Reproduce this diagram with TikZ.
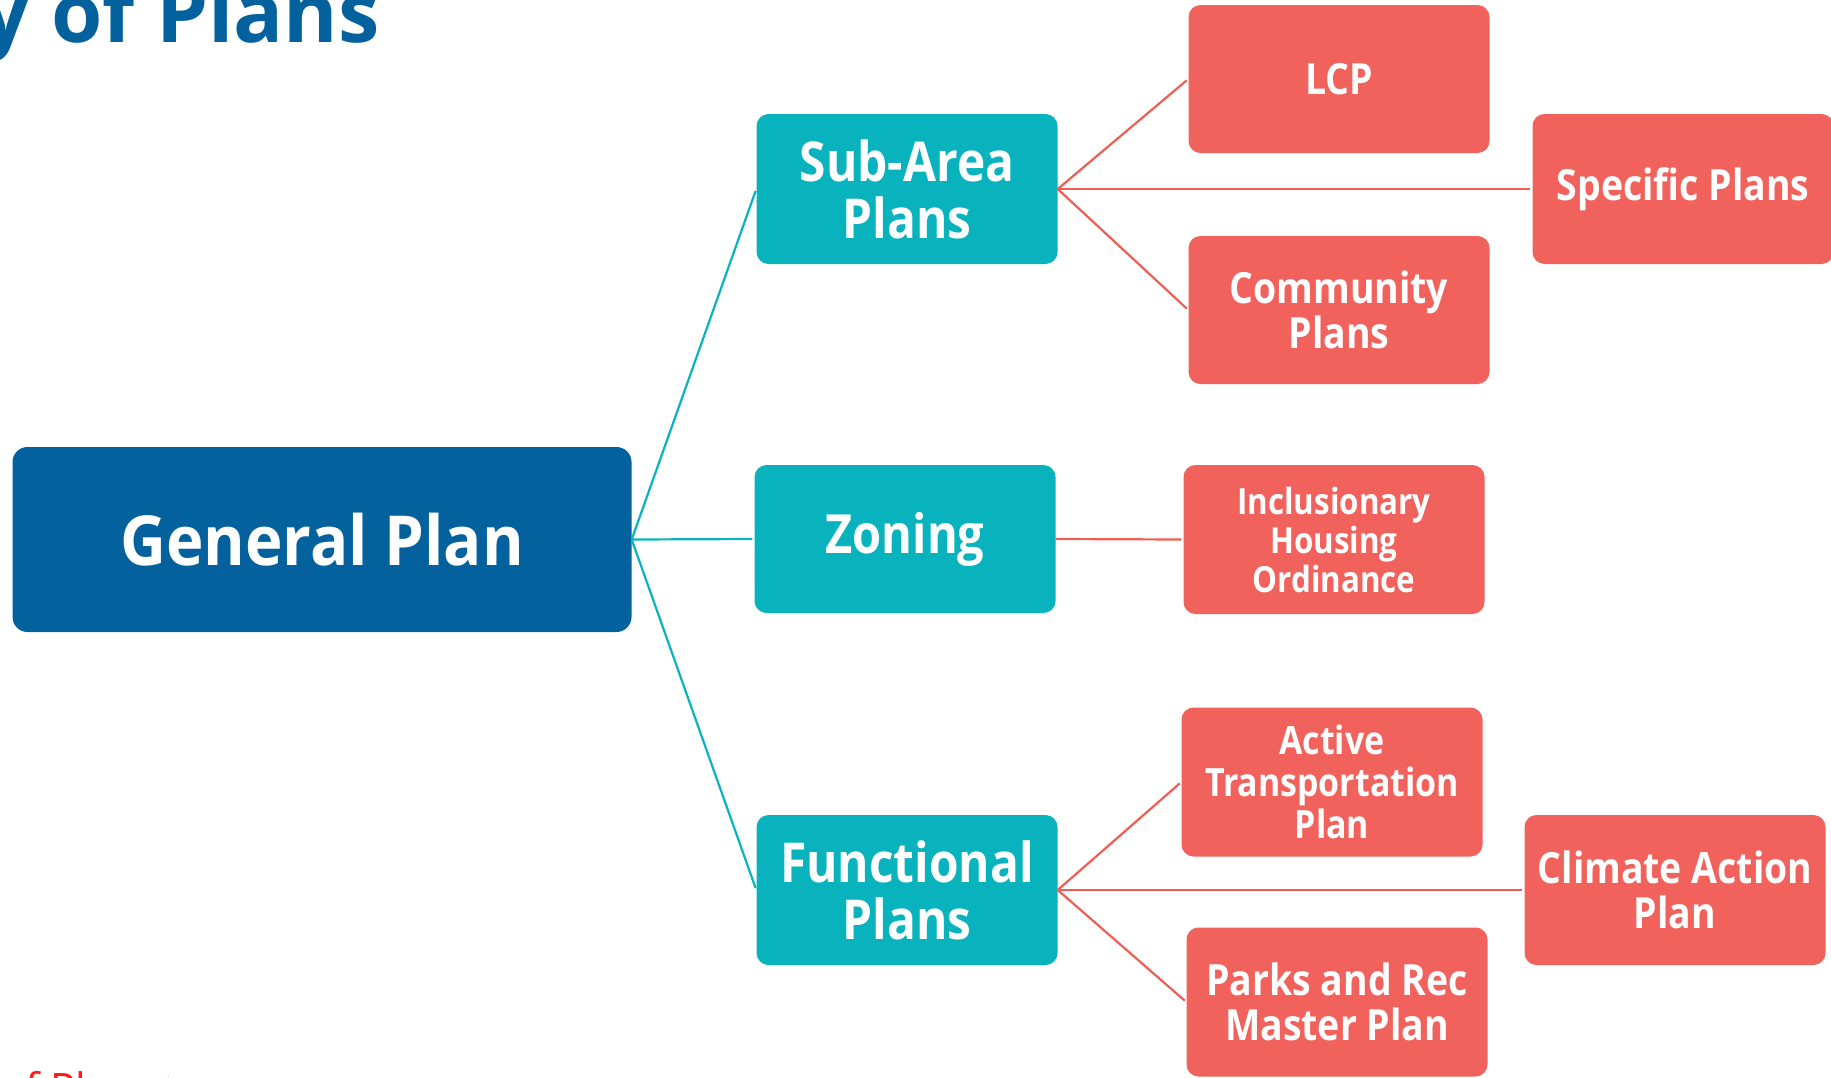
\documentclass[tikz,border=0pt]{standalone}
\usepackage{fontspec}
\setmainfont{Open Sans}
\newfontfamily\boxfont[FakeStretch=0.87]{Open Sans}
\newfontfamily\rootfont[FakeStretch=0.92]{Open Sans}
\definecolor{gpblue}{HTML}{03619E}
\definecolor{teal}{HTML}{08B3BE}
\definecolor{coral}{HTML}{F0625B}
\definecolor{coralline}{HTML}{EF5D55}
\definecolor{linkred}{HTML}{FF1A1A}
\begin{document}
\begin{tikzpicture}[x=1pt,y=-1pt,
  box/.style={rectangle, rounded corners=12pt, inner sep=0pt, align=center,
    text=white, minimum width=301pt},
  topbox/.style={box, fill=gpblue, rounded corners=15pt,
    font=\rootfont\bfseries\fontsize{69}{80}\selectfont},
  midbox/.style={box, fill=teal, minimum height=150pt,
    font=\boxfont\bfseries\fontsize{55}{57}\selectfont},
  leafbox/.style={box, fill=coral, minimum height=149pt,
    font=\boxfont\bfseries\fontsize{43}{45}\selectfont},
  smallleaf/.style={leafbox, font=\boxfont\bfseries\fontsize{36}{39}\selectfont},
  tealline/.style={draw=teal, line width=2.2pt, shorten >=2pt},
  redline/.style={draw=coralline, line width=2.2pt, shorten >=2pt}]
\clip (0,0) rectangle (1831,1077);

% heading and footer link, both cut by the frame
\node[anchor=base east, text=gpblue, inner sep=0pt,
  font=\bfseries\fontsize{83}{90}\selectfont] (title) at (380,42) {y of Plans};
\node[anchor=base west, text=linkred, inner sep=0pt,
  font=\fontsize{42}{46}\selectfont] (footer) at (0,1103) {of Plans >};

% root
\node[topbox, minimum width=619pt, minimum height=185pt] (gp) at (322,539.5) {General Plan};

% second level
\node[midbox] (sa) at (907,189) {Sub-Area\\Plans};
\node[midbox, minimum height=148pt, font=\boxfont\bfseries\fontsize{54}{58}\selectfont] (zn) at (905,539) {Zoning};
\node[midbox] (fp) at (907,890) {Functional\\Plans};

% third level
\node[leafbox, minimum height=148pt] (lcp) at (1339,79) {LCP};
\node[leafbox, minimum height=148pt] (cp) at (1339,310) {Community\\Plans};
\node[leafbox, minimum height=150pt] (sp) at (1683,189) {Specific Plans};
\node[smallleaf] (iho) at (1334,539.5) {Inclusionary\\Housing\\Ordinance};
\node[leafbox, font=\boxfont\bfseries\fontsize{39}{42}\selectfont] (atp) at (1332,782) {Active\\Transportation\\Plan};
\node[leafbox, minimum height=150pt] (cap) at (1675,890) {Climate Action\\Plan};
\node[leafbox] (prm) at (1337,1002) {Parks and Rec\\Master Plan};

% connectors
\draw[tealline] (gp.east) -- (sa.west);
\draw[tealline] (gp.east) -- (zn.west);
\draw[tealline] (gp.east) -- (fp.west);
\draw[redline] (sa.east) -- (lcp.west);
\draw[redline] (sa.east) -- (sp.west);
\draw[redline] (sa.east) -- (cp.west);
\draw[redline] (zn.east) -- (iho.west);
\draw[redline] (fp.east) -- (atp.west);
\draw[redline] (fp.east) -- (cap.west);
\draw[redline] (fp.east) -- (prm.west);
\end{tikzpicture}
\end{document}
